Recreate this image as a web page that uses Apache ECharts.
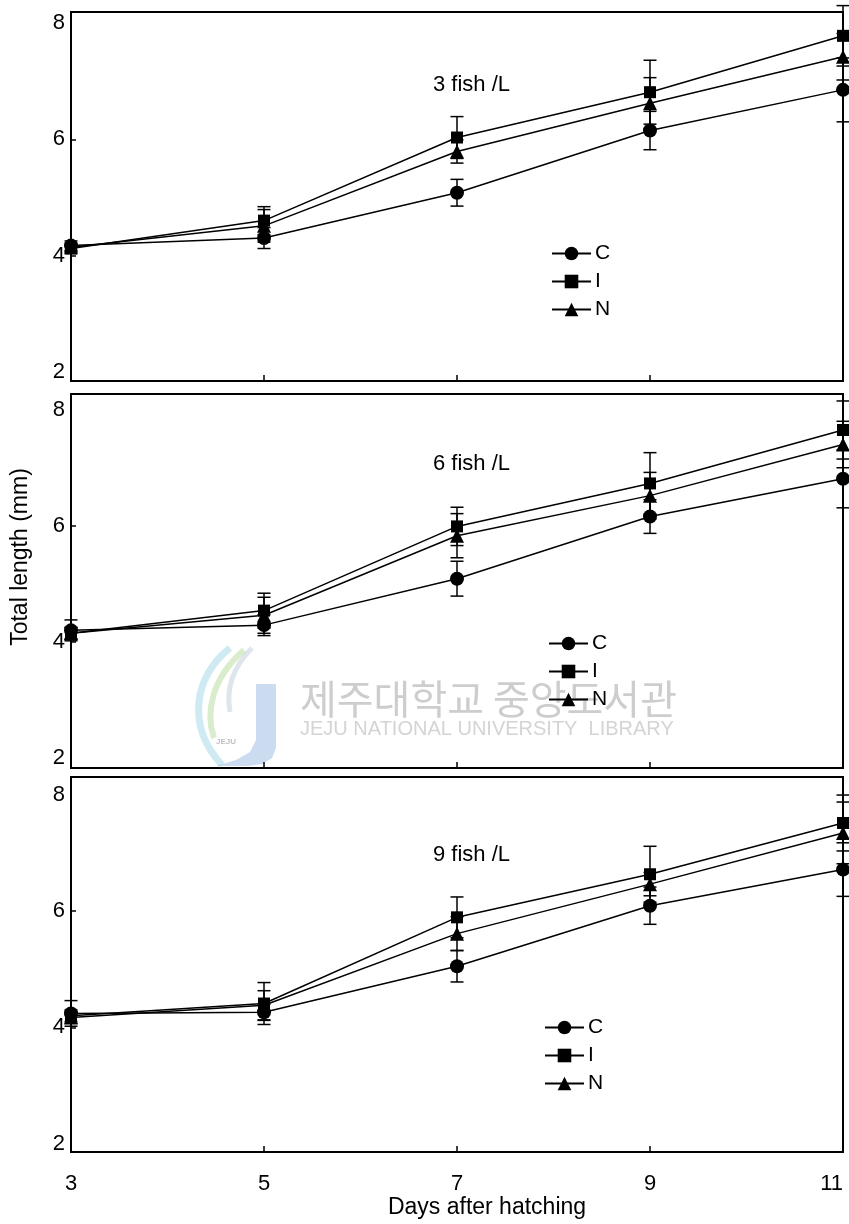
<!DOCTYPE html>
<html>
<head>
<meta charset="utf-8">
<script src="https://cdn.jsdelivr.net/npm/echarts@6/dist/echarts.min.js"></script>
<style>html,body{margin:0;padding:0;background:#fff;}#chart{width:849px;height:1224px;}</style>
</head>
<body>
<div id="chart"></div>
<script>
// ---- data ----
const days = [3, 5, 7, 9, 11];
const yLabelValues = [2, 4, 6, 8];
const yTickValues = [4, 6];
const panelTitles = ['3 fish /L', '6 fish /L', '9 fish /L'];
const seriesNames = ['C', 'I', 'N'];

// 3 fish /L
const c3 = [4.17, 4.30, 5.08, 6.15, 6.85];
const i3 = [4.12, 4.60, 6.03, 6.81, 7.78];
const n3 = [4.14, 4.51, 5.79, 6.62, 7.42];
const c3sd = [0.08, 0.18, 0.23, 0.33, 0.55];
const i3sd = [0.06, 0.24, 0.36, 0.55, 0.52];
const n3sd = [0.07, 0.28, 0.20, 0.44, 0.40];

// 6 fish /L
const c6 = [4.20, 4.29, 5.09, 6.16, 6.81];
const i6 = [4.15, 4.54, 5.99, 6.73, 7.65];
const n6 = [4.15, 4.46, 5.83, 6.52, 7.40];
const c6sd = [0.18, 0.18, 0.30, 0.29, 0.50];
const i6sd = [0.10, 0.30, 0.33, 0.53, 0.50];
const n6sd = [0.10, 0.31, 0.38, 0.40, 0.40];

// 9 fish /L
const c9 = [4.24, 4.26, 5.05, 6.09, 6.71];
const i9 = [4.20, 4.41, 5.89, 6.63, 7.51];
const n9 = [4.17, 4.38, 5.61, 6.46, 7.34];
const c9sd = [0.22, 0.14, 0.27, 0.32, 0.46];
const i9sd = [0.10, 0.36, 0.35, 0.48, 0.48];
const n9sd = [0.10, 0.25, 0.29, 0.20, 0.53];

const yMins = [1.84, 1.83, 1.86];
const yMaxs = [8.19, 8.27, 8.30];

// ---- build ----
const FONT = 'Liberation Sans, Arial, Helvetica, sans-serif';
const panels = [
  { means: [c3, i3, n3], sds: [c3sd, i3sd, n3sd] },
  { means: [c6, i6, n6], sds: [c6sd, i6sd, n6sd] },
  { means: [c9, i9, n9], sds: [c9sd, i9sd, n9sd] }
];
const symbols = ['circle', 'rect', 'triangle'];
const symbolSizes = [14, 12, 14];

const gridPos = [
  { left: 71, top: 12, width: 772, height: 369 },
  { left: 71, top: 394, width: 772, height: 374 },
  { left: 71, top: 777, width: 772, height: 375 }
];
const legendPos = [
  { left: 551, top: 243 },
  { left: 548, top: 633 },
  { left: 544, top: 1017 }
];
const titlePos = [[433, 85], [433, 464], [433, 855]];

function errItem(params, api) {
  const x = api.value(0), m = api.value(1), s = api.value(2);
  const p1 = api.coord([x, m + s]);
  const p2 = api.coord([x, m - s]);
  const h = 6.5;
  const st = { stroke: '#000', lineWidth: 1.5 };
  return {
    type: 'group',
    children: [
      { type: 'line', shape: { x1: p1[0], y1: p1[1], x2: p2[0], y2: p2[1] }, style: st },
      { type: 'line', shape: { x1: p1[0] - h, y1: p1[1], x2: p1[0] + h, y2: p1[1] }, style: st },
      { type: 'line', shape: { x1: p2[0] - h, y1: p2[1], x2: p2[0] + h, y2: p2[1] }, style: st }
    ]
  };
}

const grid = [], xAxis = [], yAxis = [], series = [], legend = [], graphic = [];

panels.forEach((p, g) => {
  grid.push(Object.assign({ show: true, borderColor: '#000', borderWidth: 2, backgroundColor: 'transparent', outerBoundsMode: 'none', containLabel: false }, gridPos[g]));
  xAxis.push({
    type: 'value', gridIndex: g, min: 3, max: 11, interval: 2,
    axisLine: { show: false },
    splitLine: { show: false },
    axisTick: { show: true, inside: true, length: 6, lineStyle: { color: '#000', width: 1.5 } },
    axisLabel: { show: g === 2, margin: 21, fontSize: 22, color: '#000', fontFamily: FONT, hideOverlap: false, alignMaxLabel: 'right' }
  });
  yAxis.push({
    type: 'value', gridIndex: g, min: yMins[g], max: yMaxs[g],
    axisLine: { show: false },
    splitLine: { show: false },
    axisTick: { show: true, inside: true, length: 5, customValues: yTickValues, lineStyle: { color: '#000', width: 1.5 } },
    axisLabel: { customValues: yLabelValues, margin: 6, fontSize: 22, color: '#000', fontFamily: FONT }
  });
  seriesNames.forEach((name, s) => {
    series.push({
      type: 'custom', name: 'err' + name + g, xAxisIndex: g, yAxisIndex: g,
      renderItem: errItem, z: 2, silent: true,
      encode: { x: 0, y: 1 },
      data: days.map((d, k) => [d, p.means[s][k], p.sds[s][k]])
    });
  });
  seriesNames.forEach((name, s) => {
    series.push({
      type: 'line', name: name, xAxisIndex: g, yAxisIndex: g,
      data: days.map((d, k) => [d, p.means[s][k]]),
      symbol: symbols[s], symbolSize: symbolSizes[s], showAllSymbol: true,
      clip: false, z: 3,
      itemStyle: { color: '#000' },
      lineStyle: { color: '#000', width: 1.5 }
    });
  });
  legend.push({
    orient: 'vertical', left: legendPos[g].left, top: legendPos[g].top,
    itemWidth: 39, itemHeight: 17, itemGap: 7, padding: 0,
    selectedMode: false,
    data: seriesNames,
    textStyle: { fontSize: 21, color: '#000', fontFamily: FONT, padding: [0, 0, 0, -1] }
  });
  graphic.push({
    type: 'text', x: titlePos[g][0], y: titlePos[g][1],
    style: { text: panelTitles[g], fill: '#000', font: '22px ' + FONT, verticalAlign: 'middle' }
  });
});

// axis titles
graphic.push({
  type: 'text', x: 21, y: 557, rotation: Math.PI / 2,
  style: { text: 'Total length (mm)', fill: '#000', font: '23px ' + FONT, align: 'center', verticalAlign: 'middle' }
});
graphic.push({
  type: 'text', x: 487, y: 1208,
  style: { text: 'Days after hatching', fill: '#000', font: '23px ' + FONT, align: 'center', verticalAlign: 'middle' }
});

// library watermark (as in the scanned source)
graphic.push({
  type: 'group', z: 50, silent: true,
  children: [
    { type: 'bezierCurve', shape: { x1: 230, y1: 648, cpx1: 195, cpy1: 675, cpx2: 185, cpy2: 725, x2: 222, y2: 765 },
      style: { stroke: '#a8d8ea', lineWidth: 7, fill: null, opacity: 0.55 } },
    { type: 'bezierCurve', shape: { x1: 244, y1: 650, cpx1: 212, cpy1: 678, cpx2: 205, cpy2: 712, x2: 214, y2: 738 },
      style: { stroke: '#bfe0a8', lineWidth: 6, fill: null, opacity: 0.6 } },
    { type: 'bezierCurve', shape: { x1: 252, y1: 648, cpx1: 232, cpy1: 668, cpx2: 226, cpy2: 690, x2: 230, y2: 712 },
      style: { stroke: '#c9d3df', lineWidth: 5, fill: null, opacity: 0.6 } },
    { type: 'polygon', shape: { points: [[256, 684], [276, 684], [276, 748], [272, 758], [262, 764], [248, 766], [216, 766], [236, 760], [250, 752], [256, 740]] },
      style: { fill: '#a9c3e6', opacity: 0.6 } },
    { type: 'text', x: 226, y: 742,
      style: { text: 'JEJU', font: 'bold 8px ' + FONT, fill: '#b0b0b0', align: 'center', verticalAlign: 'middle', opacity: 0.8 } },
    { type: 'text', x: 300, y: 699,
      style: { text: '제주대학교 중앙도서관', font: '40px "Noto Sans CJK KR"', fill: '#c4c4c4', verticalAlign: 'middle', opacity: 0.85 } },
    { type: 'text', x: 300, y: 729,
      style: { text: 'JEJU NATIONAL UNIVERSITY  LIBRARY', font: '20px ' + FONT, fill: '#cdcdcd', verticalAlign: 'middle', opacity: 0.85 } }
  ]
});

const chart = echarts.init(document.getElementById('chart'), null, { renderer: 'canvas' });
chart.setOption({
  animation: false,
  backgroundColor: '#fff',
  textStyle: { fontFamily: FONT },
  grid: grid,
  xAxis: xAxis,
  yAxis: yAxis,
  legend: legend,
  series: series,
  graphic: graphic
});
</script>
</body>
</html>
